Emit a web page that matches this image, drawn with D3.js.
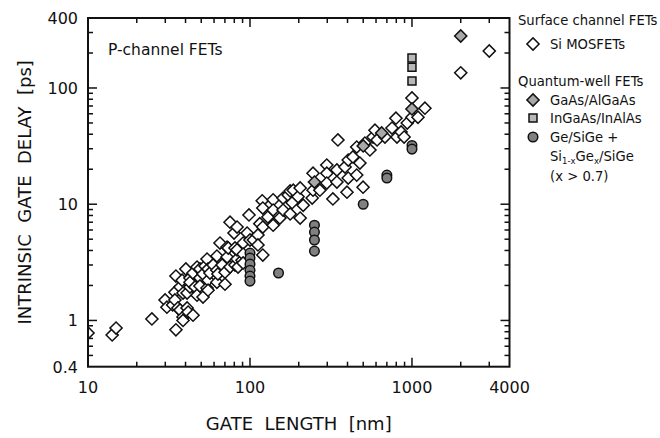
<!DOCTYPE html>
<html>
<head>
<meta charset="utf-8">
<script src="https://cdn.jsdelivr.net/npm/d3@7"></script>
<style>
  body { margin: 0; background: #fff; }
  text { font-family: "DejaVu Sans", Verdana, sans-serif; fill: #111; }
</style>
</head>
<body>
<svg id="delay_chart" width="660" height="438"></svg>
<script>
// gate length [nm], intrinsic gate delay [ps]
const si_mosfet = [
  [10,0.78],[14.1,0.75],[14.9,0.86],[24.8,1.03],[29.9,1.5],[30.7,1.3],[33.3,1.36],[34.4,1.75],[34.4,1.5],
  [34.9,2.41],[34.9,0.83],[35.9,1.28],[37,1.94],[37,1.23],[38.1,2.22],[38.6,1.72],[38.6,1.07],[38.6,1.0],
  [40.2,2.77],[40.9,1.28],[40.9,1.72],[41.5,1.18],[42.6,2.32],[42.6,1.94],[42.6,2.13],[44.5,2.56],[44.5,1.11],
  [45.8,1.94],[47.1,1.65],[47.1,2.88],[49.1,2.32],[49.1,1.98],[49.1,2.77],[51.3,1.59],[51.3,2.51],[52.8,2.94],
  [54.3,3.37],[54.3,1.9],[55.1,2.22],[55.1,1.82],[55.1,2.77],[56.6,2.56],[59.2,3.0],[62.5,3.58],[62.5,2.13],
  [62.5,2.7],[63.4,2.51],[65.3,4.63],[67.3,3.0],[70.1,2.05],[70.1,2.6],[72.2,4.28],[72.2,3.51],[73.4,4.2],
  [75.3,7.0],[75.3,2.88],[79.7,5.65],[80.8,4.2],[80.8,3.0],[83.2,6.36],[83.2,3.37],[83.2,4.05],[84.4,2.88],
  [89.3,3.3],[90.7,4.63],[90.7,3.72],[90.7,3.12],[96,5.65],[98.6,8.08],[100,4.92],[105,4.92],[112,5.44],
  [112,4.46],[115,6.8],[119,10.7],[120,9.27],[120,6.36],[120,3.65],[129,7.75],[139,10.9],[139,8.9],[139,6.6],
  [153,7.6],[160,11.3],[160,8.9],[172,12.0],[177,8.25],[177,13.0],[182,10.3],[185,13.2],[198,11.6],[204,13.8],
  [204,7.6],[213,9.8],[242,11.3],[245,13.2],[245,18.5],[270,13.2],[298,21.7],[298,18.5],[298,15.2],[325,11.1],
  [344,19.7],[344,15.5],[349,35.7],[386,20.9],[397,12.7],[404,16.8],[404,24],[432,25.5],[456,31],[456,17.8],
  [477,22.6],[499,14],[512,33.6],[550,29.3],[575,37.8],[591,43.3],[609,35.7],[681,37.8],[753,45.2],[796,55],
  [808,37.8],[856,41.8],[894,37.8],[935,49.9],[1000,82],[1000,56],[1089,56],[1202,67],[2000,135],[3000,208]
];
const gaas_algaas = [[250,15.5],[500,31.7],[650,41],[1000,66],[2000,280]];
const ingaas_inalas = [[1000,181],[1000,151],[1000,115]];
const ge_sige = [
  [100,3.8],[100,3.44],[100,3.05],[100,2.7],[100,2.41],[100,2.18],[150,2.56],
  [250,6.6],[250,5.76],[250,4.92],[250,3.95],[500,10],[700,17.8],[700,16.8],[1000,32],[1000,29.8]
];
const x_labels = [10, 100, 1000, 4000];
const x_major = [10, 100, 1000];
const y_labels = [0.4, 1, 10, 100, 400];
const y_major = [1, 10, 100];

const svg = d3.select("svg#delay_chart");
const plot = { left: 88, right: 509.5, top: 18, bottom: 366.7 };

const x = d3.scaleLog([10, 4000], [plot.left, plot.right]);
const y = d3.scaleLog([0.4, 400], [plot.bottom, plot.top]);

const grey_diamond = '#a8a8a8';
const grey_square = '#b8b8b8';
const grey_circle = '#808080';
const ink = '#111';

const diamond = d3.symbol().type(d3.symbolSquare).size(74);
const square = d3.symbol().type(d3.symbolSquare).size(64);
const circle = d3.symbol().type(d3.symbolCircle).size(72);

// ticks (inward, all four sides)
const x_minor = x.ticks().filter(d => !x_major.includes(d) && d > 10 && d < 4000);
const y_minor = y.ticks().filter(d => !y_major.includes(Math.round(d * 1000) / 1000) && d > 0.41 && d < 399);
const x_ticks = x_minor.map(d => ({ v: d, len: 5 })).concat(x_major.map(d => ({ v: d, len: 9 })));
const y_ticks = y_minor.map(d => ({ v: d, len: 5 })).concat(y_major.map(d => ({ v: d, len: 9 })));

const ticks = svg.append("g").attr("stroke", ink).attr("stroke-width", 1.5);
ticks.selectAll("line.xb").data(x_ticks).join("line").attr("class", "xb")
  .attr("x1", d => x(d.v)).attr("x2", d => x(d.v))
  .attr("y1", plot.bottom).attr("y2", d => plot.bottom - d.len);
ticks.selectAll("line.xt").data(x_ticks).join("line").attr("class", "xt")
  .attr("x1", d => x(d.v)).attr("x2", d => x(d.v))
  .attr("y1", plot.top).attr("y2", d => plot.top + d.len);
ticks.selectAll("line.yl").data(y_ticks).join("line").attr("class", "yl")
  .attr("y1", d => y(d.v)).attr("y2", d => y(d.v))
  .attr("x1", plot.left).attr("x2", d => plot.left + d.len);
ticks.selectAll("line.yr").data(y_ticks).join("line").attr("class", "yr")
  .attr("y1", d => y(d.v)).attr("y2", d => y(d.v))
  .attr("x1", plot.right).attr("x2", d => plot.right - d.len);

// data, clipped to the frame
svg.append("clipPath").attr("id", "plot_clip").append("rect")
  .attr("x", plot.left).attr("y", plot.top)
  .attr("width", plot.right - plot.left).attr("height", plot.bottom - plot.top);
const marks = svg.append("g").attr("clip-path", "url(#plot_clip)")
  .attr("stroke", ink).attr("stroke-width", 1.5);

marks.selectAll("path.si").data(si_mosfet).join("path").attr("class", "si")
  .attr("d", diamond).attr("fill", "#fff")
  .attr("transform", d => `translate(${x(d[0])},${y(d[1])}) rotate(45)`);
marks.selectAll("path.gaas").data(gaas_algaas).join("path").attr("class", "gaas")
  .attr("d", diamond).attr("fill", grey_diamond)
  .attr("transform", d => `translate(${x(d[0])},${y(d[1])}) rotate(45)`);
marks.selectAll("path.ingaas").data(ingaas_inalas).join("path").attr("class", "ingaas")
  .attr("d", square).attr("fill", grey_square)
  .attr("transform", d => `translate(${x(d[0])},${y(d[1])})`);
marks.selectAll("path.ge").data(ge_sige).join("path").attr("class", "ge")
  .attr("d", circle).attr("fill", grey_circle)
  .attr("transform", d => `translate(${x(d[0])},${y(d[1])})`);

// frame
svg.append("rect")
  .attr("x", plot.left).attr("y", plot.top)
  .attr("width", plot.right - plot.left).attr("height", plot.bottom - plot.top)
  .attr("fill", "none").attr("stroke", ink).attr("stroke-width", 2);

// tick labels
svg.selectAll("text.xlab").data(x_labels).join("text").attr("class", "xlab")
  .attr("x", d => x(d)).attr("y", 393)
  .attr("text-anchor", "middle").attr("font-size", 16)
  .text(d => d);
svg.selectAll("text.ylab").data(y_labels).join("text").attr("class", "ylab")
  .attr("x", 78).attr("y", d => y(d) + 6)
  .attr("text-anchor", "end").attr("font-size", 16)
  .text(d => d);

// axis titles
svg.append("text")
  .attr("x", (plot.left + plot.right) / 2).attr("y", 430)
  .attr("text-anchor", "middle").attr("font-size", 18)
  .attr("xml:space", "preserve")
  .text("GATE  LENGTH  [nm]");
svg.append("text")
  .attr("transform", `translate(31, ${(plot.top + plot.bottom) / 2}) rotate(-90)`)
  .attr("text-anchor", "middle").attr("font-size", 18)
  .attr("xml:space", "preserve")
  .text("INTRINSIC  GATE  DELAY  [ps]");

svg.append("text")
  .attr("x", 108).attr("y", 55).attr("font-size", 15.5)
  .text("P-channel FETs");

// legend
const legend = svg.append("g").attr("font-size", 13.2);
legend.append("text").attr("x", 518).attr("y", 25).text("Surface channel FETs");
legend.append("path").attr("d", diamond).attr("fill", "#fff")
  .attr("stroke", ink).attr("stroke-width", 1.5)
  .attr("transform", "translate(533,44) rotate(45)");
legend.append("text").attr("x", 550).attr("y", 49).text("Si MOSFETs");

legend.append("text").attr("x", 518).attr("y", 86).text("Quantum-well FETs");
legend.append("path").attr("d", diamond).attr("fill", grey_diamond)
  .attr("stroke", ink).attr("stroke-width", 1.5)
  .attr("transform", "translate(533,100) rotate(45)");
legend.append("text").attr("x", 550).attr("y", 105).text("GaAs/AlGaAs");
legend.append("path").attr("d", square).attr("fill", grey_square)
  .attr("stroke", ink).attr("stroke-width", 1.5)
  .attr("transform", "translate(533,118)");
legend.append("text").attr("x", 550).attr("y", 123).text("InGaAs/InAlAs");
legend.append("path").attr("d", circle).attr("fill", grey_circle)
  .attr("stroke", ink).attr("stroke-width", 1.5)
  .attr("transform", "translate(533,137)");
legend.append("text").attr("x", 550).attr("y", 142).text("Ge/SiGe +");

const sige = legend.append("text").attr("x", 550).attr("y", 161);
sige.append("tspan").text("Si");
sige.append("tspan").attr("font-size", 8.5).attr("dy", 3).text("1-x");
sige.append("tspan").attr("dy", -3).text("Ge");
sige.append("tspan").attr("font-size", 8.5).attr("dy", 3).text("x");
sige.append("tspan").attr("dy", -3).text("/SiGe");
legend.append("text").attr("x", 550).attr("y", 181)
  .attr("xml:space", "preserve").text("(x > 0.7)");
</script>
</body>
</html>
